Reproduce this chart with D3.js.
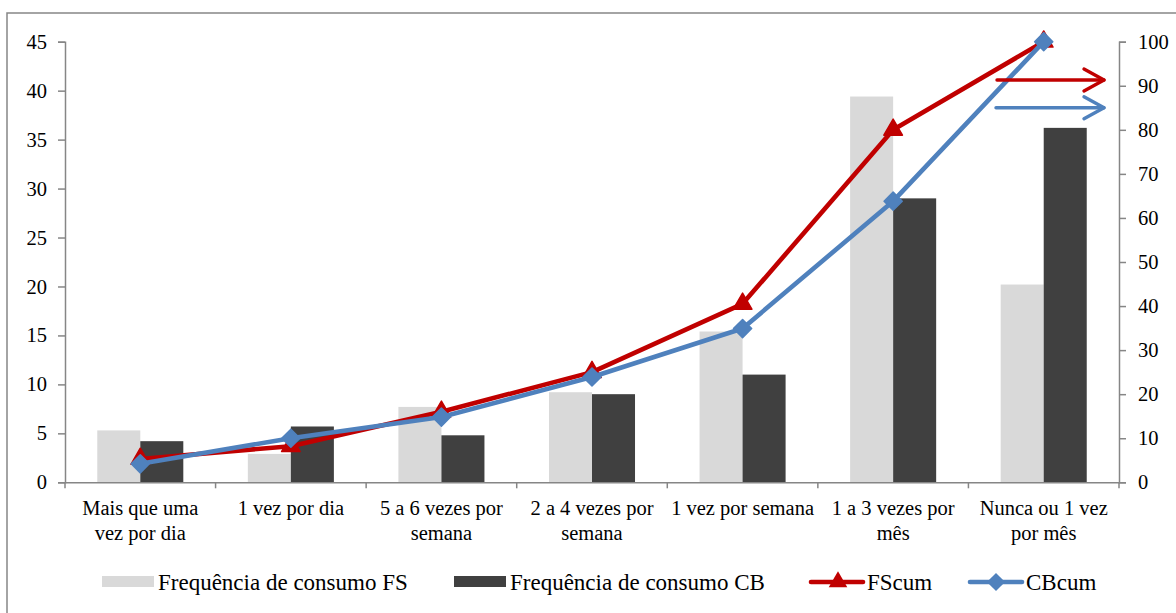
<!DOCTYPE html>
<html>
<head>
<meta charset="utf-8">
<script src="https://cdn.jsdelivr.net/npm/d3@7"></script>
<style>
  html, body { margin: 0; padding: 0; background: #fff; }
  svg { display: block; }
  text { font-family: "Liberation Serif", "Times New Roman", serif; fill: #000; }
</style>
</head>
<body>
<svg id="chart" width="1176" height="613"></svg>
<script>
// ---------- data ----------
const categories = [
  "Mais que uma\nvez por dia",
  "1 vez por dia",
  "5 a 6 vezes por\nsemana",
  "2 a 4 vezes por\nsemana",
  "1 vez por semana",
  "1 a 3 vezes por\nmês",
  "Nunca ou 1 vez\npor mês"
];
const freqFS = [5.3, 2.9, 7.7, 9.2, 15.4, 39.4, 20.2];
const freqCB = [4.2, 5.7, 4.8, 9.0, 11.0, 29.0, 36.2];
const FScum  = [5.3, 8.2, 16.0, 25.0, 40.5, 80.0, 100];
const CBcum  = [4.2, 10.0, 14.8, 23.9, 34.9, 63.8, 100];
const leftTicks  = [0, 5, 10, 15, 20, 25, 30, 35, 40, 45];
const rightTicks = [0, 10, 20, 30, 40, 50, 60, 70, 80, 90, 100];
const barSeries = ["Frequência de consumo FS", "Frequência de consumo CB"];
const lineSeries = ["FScum", "CBcum"];

// ---------- layout ----------
const svg = d3.select("#chart");
const plot = { left: 65, right: 1119, top: 41.7, bottom: 482.3 };
const colFS = "#d9d9d9", colCB = "#404040", colRed = "#c00000", colBlue = "#4f81bd", axisCol = "#868686";

// chart frame
svg.append("rect").attr("x", 7).attr("y", 13).attr("width", 1300).attr("height", 800)
  .attr("fill", "none").attr("stroke", axisCol).attr("stroke-width", 1.5);

const x = d3.scaleBand().domain(categories).range([plot.left, plot.right]).padding(0);
const xSub = d3.scaleBand().domain(barSeries).range([0, x.bandwidth()]).paddingInner(0).paddingOuter(0.75);
const yL = d3.scaleLinear().domain([0, 45]).range([plot.bottom, plot.top]);
const yR = d3.scaleLinear().domain([0, 100]).range([plot.bottom, plot.top]);

// bars
const rows = categories.map((c, i) => ({ c, vals: [freqFS[i], freqCB[i]] }));
const g = svg.append("g").selectAll("g").data(rows).join("g")
  .attr("transform", d => `translate(${x(d.c)},0)`);
g.selectAll("rect").data(d => d.vals.map((v, j) => ({ s: barSeries[j], v, j })))
  .join("rect")
  .attr("x", d => xSub(d.s))
  .attr("width", xSub.bandwidth())
  .attr("y", d => yL(d.v))
  .attr("height", d => plot.bottom - yL(d.v))
  .attr("fill", d => d.j === 0 ? colFS : colCB);

// left axis
const axL = svg.append("g").attr("transform", `translate(${plot.left},0)`)
  .call(d3.axisLeft(yL).tickValues(leftTicks).tickSizeInner(7).tickSizeOuter(7).tickPadding(11));
// right axis
const axR = svg.append("g").attr("transform", `translate(${plot.right},0)`)
  .call(d3.axisRight(yR).tickValues(rightTicks).tickSizeInner(7).tickSizeOuter(7).tickPadding(12));
[axL, axR].forEach(a => {
  a.select(".domain").attr("stroke", axisCol).attr("stroke-width", 1.5);
  a.selectAll(".tick line").attr("stroke", axisCol).attr("stroke-width", 1.5);
  a.selectAll(".tick text").attr("font-size", 20.5).attr("font-family", "Liberation Serif").attr("fill", "#000");
});

// bottom axis
const axB = svg.append("g").attr("transform", `translate(0,${plot.bottom})`)
  .call(d3.axisBottom(x).tickSize(0).tickFormat(""));
axB.select(".domain").attr("stroke", axisCol).attr("stroke-width", 1.5);
const bounds = categories.map(c => x(c)).concat([plot.right]);
axB.selectAll("line.sep").data(bounds).join("line").attr("class", "sep")
  .attr("x1", d => d).attr("x2", d => d).attr("y1", 0).attr("y2", 6)
  .attr("stroke", axisCol).attr("stroke-width", 1.5);

// category labels
const lab = svg.append("g").selectAll("text").data(categories).join("text")
  .attr("x", d => x(d) + x.bandwidth() / 2)
  .attr("y", 514.5)
  .attr("text-anchor", "middle")
  .attr("font-size", 20.5);
lab.each(function(d) {
  const t = d3.select(this);
  d.split("\n").forEach((line, i) => {
    t.append("tspan").attr("x", x(d) + x.bandwidth() / 2).attr("dy", i === 0 ? 0 : 25).text(line);
  });
});

// lines
const cx = d => x(d) + x.bandwidth() / 2;
const lineGen = d3.line().x(d => cx(d.c)).y(d => yR(d.v));
const triPath = d3.symbol().type(d3.symbolTriangle).size(150)();
const diaPath = d3.symbol().type(d3.symbolSquare).size(165)();

function drawLine(vals, color, kind) {
  const pts = categories.map((c, i) => ({ c, v: vals[i] }));
  svg.append("path").datum(pts).attr("d", lineGen)
    .attr("fill", "none").attr("stroke", color).attr("stroke-width", 4.6)
    .attr("stroke-linejoin", "round").attr("stroke-linecap", "round");
  svg.append("g").selectAll("path").data(pts).join("path")
    .attr("d", kind === "tri" ? triPath : diaPath)
    .attr("transform", d => `translate(${cx(d.c)},${yR(d.v)})` + (kind === "tri" ? "" : " rotate(45)"))
    .attr("fill", color).attr("stroke", color).attr("stroke-width", 1.5).attr("stroke-linejoin", "round");
}
drawLine(FScum, colRed, "tri");
drawLine(CBcum, colBlue, "dia");

// annotation arrows pointing to the right axis
function arrow(yv, color, x0, x1) {
  const yy = yR(yv);
  const a = svg.append("g").attr("fill", "none").attr("stroke", color).attr("stroke-width", 3.4)
    .attr("stroke-linecap", "round").attr("stroke-linejoin", "round");
  a.append("line").attr("x1", x0).attr("x2", x1).attr("y1", yy).attr("y2", yy);
  a.append("path").attr("d", `M${x1 - 20},${yy - 11} L${x1},${yy} L${x1 - 20},${yy + 11}`);
}
arrow(91.3, colRed, 997, 1104);
arrow(85.0, colBlue, 996, 1104);

// legend
const leg = svg.append("g").attr("font-size", 23);
const ly = 582;
leg.append("rect").attr("x", 102).attr("y", 576).attr("width", 52).attr("height", 11).attr("fill", colFS);
leg.append("text").attr("x", 158).attr("y", ly + 8).text(barSeries[0]);
leg.append("rect").attr("x", 454).attr("y", 576).attr("width", 52).attr("height", 11).attr("fill", colCB);
leg.append("text").attr("x", 510).attr("y", ly + 8).text(barSeries[1]);
leg.append("line").attr("x1", 811).attr("x2", 863).attr("y1", ly).attr("y2", ly)
  .attr("stroke", colRed).attr("stroke-width", 4.6).attr("stroke-linecap", "round");
leg.append("path").attr("d", triPath).attr("transform", `translate(838,${ly})`).attr("fill", colRed);
leg.append("text").attr("x", 867).attr("y", ly + 8).text(lineSeries[0]);
leg.append("line").attr("x1", 970).attr("x2", 1022).attr("y1", ly).attr("y2", ly)
  .attr("stroke", colBlue).attr("stroke-width", 4.6).attr("stroke-linecap", "round");
leg.append("path").attr("d", diaPath).attr("transform", `translate(996,${ly}) rotate(45)`).attr("fill", colBlue);
leg.append("text").attr("x", 1026).attr("y", ly + 8).text(lineSeries[1]);
</script>
</body>
</html>
